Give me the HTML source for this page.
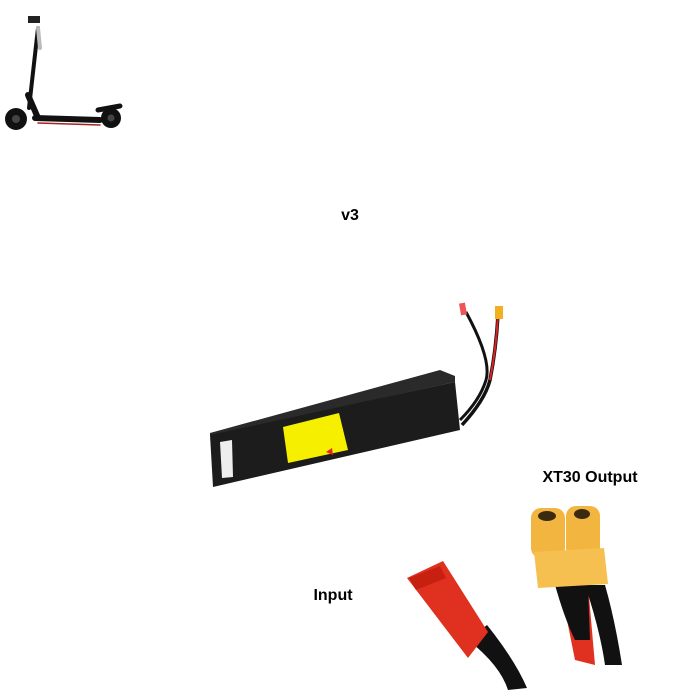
<!DOCTYPE html>
<html><head><style>
body{margin:0;background:#fff;width:700px;height:700px;overflow:hidden}
svg{display:block}
text{font-family:"Liberation Sans",sans-serif;font-weight:bold;fill:#000}
</style></head><body>
<svg width="700" height="700" viewBox="0 0 700 700">
<!-- scooter -->
<g stroke="#111" fill="none" stroke-linecap="round">
<line x1="38" y1="28" x2="29" y2="108" stroke-width="4"/>
<line x1="38" y1="28" x2="40" y2="48" stroke="#bbb" stroke-width="4"/>
<rect x="28" y="16" width="12" height="7" fill="#222" stroke="none"/>
<line x1="28" y1="95" x2="38" y2="118" stroke-width="6"/>
<line x1="35" y1="118" x2="100" y2="120" stroke-width="6"/>
<line x1="38" y1="123" x2="100" y2="125" stroke="#a22" stroke-width="1.5"/>
<line x1="98" y1="110" x2="120" y2="106" stroke-width="5"/>
</g>
<circle cx="16" cy="119" r="11" fill="#111"/>
<circle cx="16" cy="119" r="4" fill="#444"/>
<circle cx="111" cy="118" r="10" fill="#111"/>
<circle cx="111" cy="118" r="3.5" fill="#444"/>
<text x="350" y="220" font-size="16" text-anchor="middle">v3</text>
<!-- battery wires -->
<path d="M460 420 Q480 400 486 380 Q492 360 466 312" stroke="#111" stroke-width="3" fill="none"/>
<path d="M462 425 Q485 400 490 380 Q496 350 498 315" stroke="#111" stroke-width="3.5" fill="none"/>
<path d="M490 380 Q496 350 498 315" stroke="#d22" stroke-width="2" fill="none"/>
<rect x="460" y="303" width="6" height="12" fill="#e55" transform="rotate(-10 463 309)"/>
<rect x="495" y="306" width="8" height="13" fill="#f0b020"/>
<!-- battery -->
<polygon points="210,433 440,370 455,376 455,382 210,436" fill="#2a2a2a"/>
<polygon points="210,435 455,382 460,430 213,487" fill="#1c1c1c"/>
<polygon points="283,427 339,413 348,450 288,463" fill="#f6f000"/>
<polygon points="220,442 232,440 233,477 222,478" fill="#eee"/>
<polygon points="326,452 332,448 333,455" fill="#e22"/>
<!-- labels -->
<text x="590" y="482" font-size="16" text-anchor="middle">XT30 Output</text>
<text x="333" y="600" font-size="16" text-anchor="middle">Input</text>
<!-- red JST -->
<path d="M468 640 Q500 665 508 690 L527 688 Q515 660 487 625 Z" fill="#111"/>
<polygon points="407,578 443,561 488,632 468,658" fill="#e03020"/>
<polygon points="409,578 440,566 446,578 416,590" fill="#c82010"/>
<!-- XT30 -->
<path d="M560 585 L575 660 L595 665 L588 585 Z" fill="#e03020"/>
<path d="M555 585 Q565 620 575 640 L590 640 L588 585 Z" fill="#111"/>
<path d="M585 585 Q600 630 605 665 L622 665 Q615 620 605 585 Z" fill="#111"/>
<rect x="531" y="508" width="34" height="50" rx="10" fill="#f2b640"/>
<rect x="566" y="506" width="34" height="52" rx="10" fill="#f2b640"/>
<ellipse cx="547" cy="516" rx="9" ry="5" fill="#3a2a10"/>
<ellipse cx="582" cy="514" rx="8" ry="5" fill="#3a2a10"/>
<polygon points="534,552 604,548 608,584 538,588" fill="#f5c050"/>
</svg>
</body></html>
